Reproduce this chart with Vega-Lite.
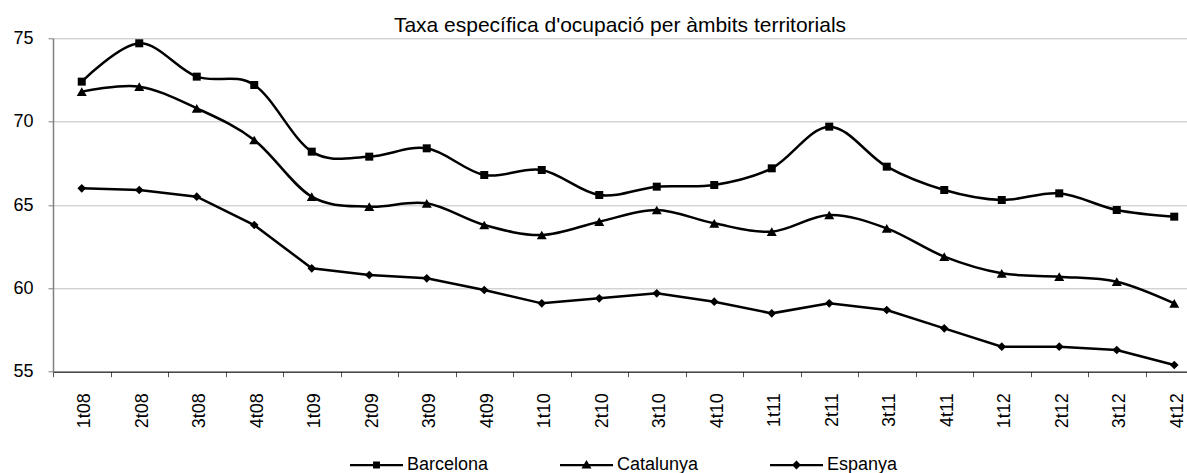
{
  "$schema": "https://vega.github.io/schema/vega-lite/v6.json",
  "width": 1134,
  "height": 333.4,
  "autosize": {"type": "none"},
  "padding": {"left": 53, "top": 38.3, "right": 0, "bottom": 101.3},
  "background": "white",
  "config": {
    "font": "Liberation Sans",
    "view": {"stroke": null}
  },
  "title": {
    "text": "Taxa específica d'ocupació per àmbits territorials",
    "font": "Liberation Sans",
    "fontSize": 21,
    "fontWeight": "normal",
    "color": "black",
    "anchor": "middle",
    "baseline": "alphabetic",
    "offset": 5,
    "dy": 29
  },
  "data": {
    "values": [
      {"q": "1t08", "s": "Barcelona", "v": 72.4},
      {"q": "2t08", "s": "Barcelona", "v": 74.7},
      {"q": "3t08", "s": "Barcelona", "v": 72.7},
      {"q": "4t08", "s": "Barcelona", "v": 72.2},
      {"q": "1t09", "s": "Barcelona", "v": 68.2},
      {"q": "2t09", "s": "Barcelona", "v": 67.9},
      {"q": "3t09", "s": "Barcelona", "v": 68.4},
      {"q": "4t09", "s": "Barcelona", "v": 66.8},
      {"q": "1t10", "s": "Barcelona", "v": 67.1},
      {"q": "2t10", "s": "Barcelona", "v": 65.6},
      {"q": "3t10", "s": "Barcelona", "v": 66.1},
      {"q": "4t10", "s": "Barcelona", "v": 66.2},
      {"q": "1t11", "s": "Barcelona", "v": 67.2},
      {"q": "2t11", "s": "Barcelona", "v": 69.7},
      {"q": "3t11", "s": "Barcelona", "v": 67.3},
      {"q": "4t11", "s": "Barcelona", "v": 65.9},
      {"q": "1t12", "s": "Barcelona", "v": 65.3},
      {"q": "2t12", "s": "Barcelona", "v": 65.7},
      {"q": "3t12", "s": "Barcelona", "v": 64.7},
      {"q": "4t12", "s": "Barcelona", "v": 64.3},
      {"q": "1t08", "s": "Catalunya", "v": 71.8},
      {"q": "2t08", "s": "Catalunya", "v": 72.1},
      {"q": "3t08", "s": "Catalunya", "v": 70.8},
      {"q": "4t08", "s": "Catalunya", "v": 68.9},
      {"q": "1t09", "s": "Catalunya", "v": 65.5},
      {"q": "2t09", "s": "Catalunya", "v": 64.9},
      {"q": "3t09", "s": "Catalunya", "v": 65.1},
      {"q": "4t09", "s": "Catalunya", "v": 63.8},
      {"q": "1t10", "s": "Catalunya", "v": 63.2},
      {"q": "2t10", "s": "Catalunya", "v": 64.0},
      {"q": "3t10", "s": "Catalunya", "v": 64.7},
      {"q": "4t10", "s": "Catalunya", "v": 63.9},
      {"q": "1t11", "s": "Catalunya", "v": 63.4},
      {"q": "2t11", "s": "Catalunya", "v": 64.4},
      {"q": "3t11", "s": "Catalunya", "v": 63.6},
      {"q": "4t11", "s": "Catalunya", "v": 61.9},
      {"q": "1t12", "s": "Catalunya", "v": 60.9},
      {"q": "2t12", "s": "Catalunya", "v": 60.7},
      {"q": "3t12", "s": "Catalunya", "v": 60.4},
      {"q": "4t12", "s": "Catalunya", "v": 59.1},
      {"q": "1t08", "s": "Espanya", "v": 66.0},
      {"q": "2t08", "s": "Espanya", "v": 65.9},
      {"q": "3t08", "s": "Espanya", "v": 65.5},
      {"q": "4t08", "s": "Espanya", "v": 63.8},
      {"q": "1t09", "s": "Espanya", "v": 61.2},
      {"q": "2t09", "s": "Espanya", "v": 60.8},
      {"q": "3t09", "s": "Espanya", "v": 60.6},
      {"q": "4t09", "s": "Espanya", "v": 59.9},
      {"q": "1t10", "s": "Espanya", "v": 59.1},
      {"q": "2t10", "s": "Espanya", "v": 59.4},
      {"q": "3t10", "s": "Espanya", "v": 59.7},
      {"q": "4t10", "s": "Espanya", "v": 59.2},
      {"q": "1t11", "s": "Espanya", "v": 58.5},
      {"q": "2t11", "s": "Espanya", "v": 59.1},
      {"q": "3t11", "s": "Espanya", "v": 58.7},
      {"q": "4t11", "s": "Espanya", "v": 57.6},
      {"q": "1t12", "s": "Espanya", "v": 56.5},
      {"q": "2t12", "s": "Espanya", "v": 56.5},
      {"q": "3t12", "s": "Espanya", "v": 56.3},
      {"q": "4t12", "s": "Espanya", "v": 55.4}
    ]
  },
  "encoding": {
    "x": {
      "field": "q",
      "type": "ordinal",
      "sort": null,
      "scale": {"type": "band", "range": [0, 1150], "paddingInner": 0, "paddingOuter": 0},
      "axis": {
        "title": null,
        "labelAngle": 270,
        "labelAlign": "right",
        "labelBaseline": "middle",
        "labelFont": "Liberation Sans",
        "labelFontSize": 18,
        "labelColor": "black",
        "labelPadding": 16,
        "labelOffset": 3,
        "tickBand": "extent",
        "tickSize": 5,
        "tickColor": "#555555",
        "domainColor": "black",
        "domainWidth": 1,
        "grid": false
      }
    },
    "y": {
      "field": "v",
      "type": "quantitative",
      "scale": {"domain": [55, 75], "zero": false, "nice": false},
      "axis": {
        "title": null,
        "values": [55, 60, 65, 70, 75],
        "labelFont": "Liberation Sans",
        "labelFontSize": 18,
        "labelColor": "black",
        "labelPadding": 15,
        "tickSize": 5,
        "tickColor": "#808080",
        "domainColor": "#808080",
        "domainWidth": 1.5,
        "grid": true,
        "gridColor": "#808080",
        "gridDash": [1, 1],
        "gridWidth": 1
      }
    }
  },
  "layer": [
    {
      "transform": [{"filter": "datum.s !== 'Espanya'"}],
      "mark": {"type": "line", "interpolate": "cardinal", "tension": 0, "color": "black", "strokeWidth": 2.5},
      "encoding": {"detail": {"field": "s"}}
    },
    {
      "transform": [{"filter": "datum.s === 'Espanya'"}],
      "mark": {"type": "line", "color": "black", "strokeWidth": 2.5},
      "encoding": {"detail": {"field": "s"}}
    },
    {
      "transform": [{"filter": "datum.s === 'Barcelona'"}],
      "mark": {"type": "point", "shape": "square", "filled": true, "color": "black", "size": 64, "opacity": 1}
    },
    {
      "transform": [{"filter": "datum.s === 'Catalunya'"}],
      "mark": {"type": "point", "shape": "triangle-up", "filled": true, "color": "black", "size": 100, "opacity": 1}
    },
    {
      "transform": [{"filter": "datum.s === 'Espanya'"}],
      "mark": {"type": "point", "shape": "diamond", "filled": true, "color": "black", "size": 75, "opacity": 1}
    },
    {
      "mark": {"type": "point", "filled": true, "color": "black", "opacity": 0},
      "encoding": {
        "shape": {
          "field": "s",
          "type": "nominal",
          "scale": {
            "domain": ["Barcelona", "Catalunya", "Espanya"],
            "range": [
              "M-1,-0.042L1,-0.042L1,0.042L-1,0.042ZM-0.13,-0.13L0.13,-0.13L0.13,0.13L-0.13,0.13Z",
              "M-1,-0.042L1,-0.042L1,0.042L-1,0.042ZM0,-0.19L0.19,0.13L-0.19,0.13Z",
              "M-1,-0.042L1,-0.042L1,0.042L-1,0.042ZM0,-0.17L0.17,0L0,0.17L-0.17,0Z"
            ]
          },
          "legend": {
            "title": null,
            "orient": "none",
            "direction": "horizontal",
            "legendX": 297,
            "legendY": 400,
            "padding": 0,
            "symbolSize": 2809,
            "symbolStrokeWidth": 0,
            "symbolFillColor": "black",
            "symbolOpacity": 1,
            "labelFont": "Liberation Sans",
            "labelFontSize": 18,
            "labelColor": "black",
            "labelOffset": 4,
            "columnPadding": 71,
            "labelLimit": 300,
            "encode": {
              "symbols": {
                "update": {
                  "fill": {"value": "black"},
                  "fillOpacity": {"value": 1},
                  "opacity": {"value": 1}
                }
              }
            }
          }
        }
      }
    }
  ]
}
